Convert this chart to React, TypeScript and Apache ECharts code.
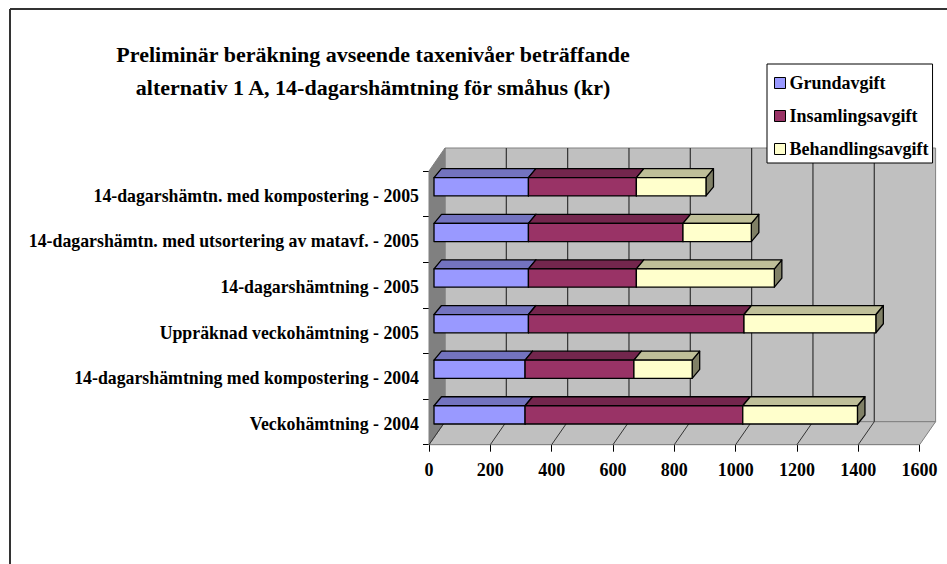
import React, { useEffect, useRef } from "react";
import * as echarts from "echarts";

const titleLines = [
  "Preliminär beräkning avseende taxenivåer beträffande",
  "alternativ 1 A, 14-dagarshämtning för småhus (kr)",
];
const categories = [
  "14-dagarshämtn. med kompostering - 2005",
  "14-dagarshämtn. med utsortering av matavf. - 2005",
  "14-dagarshämtning - 2005",
  "Uppräknad veckohämtning - 2005",
  "14-dagarshämtning med kompostering - 2004",
  "Veckohämtning - 2004",
];
const grundavgift = [308, 308, 308, 308, 297, 297];
const insamlingsavgift = [352, 504, 352, 703, 355, 710];
const behandlingsavgift = [227, 223, 450, 430, 190, 374];
const valueTicks = [0, 200, 400, 600, 800, 1000, 1200, 1400, 1600];

const FONT = "'Liberation Serif', 'Times New Roman', serif";
const DEPTH_X = 16;
const DEPTH_Y = -23;
const BAR_DX = 5;
const BAR_DY = -7;
const TOP_DX = 7.5;
const TOP_DY = -9;
const BAR_RATIO = 0.4;

const seriesDefs = [
  { name: "Grundavgift", values: grundavgift, front: "#9999FF", top: "#7373BF", side: "#4D4D80" },
  { name: "Insamlingsavgift", values: insamlingsavgift, front: "#993366", top: "#73264D", side: "#4D1A33" },
  { name: "Behandlingsavgift", values: behandlingsavgift, front: "#FFFFCC", top: "#BFBF99", side: "#808066" },
];

function stacked(idx: number) {
  return categories.map((_, c) => {
    let start = 0;
    for (let s = 0; s < idx; s++) start += seriesDefs[s].values[c];
    return [start, start + seriesDefs[idx].values[c], c];
  });
}

function renderWalls(params: any, api: any) {
  const cs = params.coordSys;
  const l = cs.x, r = cs.x + cs.width, t = cs.y, b = cs.y + cs.height;
  const dx = DEPTH_X, dy = DEPTH_Y;
  const wallStroke = { stroke: "#808080", lineWidth: 1 };
  const children: any[] = [
    { type: "polygon", shape: { points: [[l + dx, t + dy], [r + dx, t + dy], [r + dx, b + dy], [l + dx, b + dy]] }, style: { fill: "#C0C0C0", ...wallStroke } },
    { type: "polygon", shape: { points: [[l, b], [r, b], [r + dx, b + dy], [l + dx, b + dy]] }, style: { fill: "#C0C0C0", ...wallStroke } },
    { type: "polygon", shape: { points: [[l, t], [l + dx, t + dy], [l + dx, b + dy], [l, b]] }, style: { fill: "#808080", ...wallStroke } },
  ];
  valueTicks.forEach((v) => {
    const x = api.coord([v, 0])[0];
    if (v > 0 && v < 1600) {
      children.push({ type: "line", shape: { x1: x + dx, y1: t + dy, x2: x + dx, y2: b + dy }, style: { stroke: "#333", lineWidth: 1.2 } });
    }
    if (v < 1600) {
      children.push({ type: "line", shape: { x1: x, y1: b, x2: x + dx, y2: b + dy }, style: { stroke: "#333", lineWidth: 1 } });
    }
  });
  return { type: "group", children };
}

function makeBarRenderer(def: any) {
  return (_params: any, api: any) => {
    const c = api.value(2);
    const p0 = api.coord([api.value(0), c]);
    const p1 = api.coord([api.value(1), c]);
    const h = api.size([0, 1])[1] * BAR_RATIO;
    const x0 = p0[0] + BAR_DX, x1 = p1[0] + BAR_DX;
    const y0 = p0[1] + BAR_DY - h / 2, y1 = y0 + h;
    const border = { stroke: "#000", lineWidth: 1.3, lineJoin: "round" };
    return {
      type: "group",
      children: [
        { type: "polygon", shape: { points: [[x1, y0], [x1 + TOP_DX, y0 + TOP_DY], [x1 + TOP_DX, y1 + TOP_DY], [x1, y1]] }, style: { fill: def.side, ...border } },
        { type: "polygon", shape: { points: [[x0, y0], [x0 + TOP_DX, y0 + TOP_DY], [x1 + TOP_DX, y0 + TOP_DY], [x1, y0]] }, style: { fill: def.top, ...border } },
        { type: "rect", shape: { x: x0, y: y0, width: x1 - x0, height: h }, style: { fill: def.front, ...border } },
      ],
    };
  };
}

export default function App() {
  const ref = useRef<HTMLDivElement>(null);
  useEffect(() => {
    document.body.style.margin = "0";
    const chart = echarts.init(ref.current!, null, { renderer: "svg" });
    chart.setOption({
      animation: false,
      backgroundColor: "#fff",
      title: {
        text: titleLines.join("\n"),
        left: 368,
        top: 33,
        textAlign: "center",
        textStyle: { fontFamily: FONT, fontWeight: "bold", fontSize: 22, lineHeight: 33, color: "#000" },
      },
      legend: {
        data: seriesDefs.map((d) => ({ name: d.name, itemStyle: { color: d.front, borderColor: "#000", borderWidth: 1 } })),
        orient: "vertical",
        left: 767,
        top: 64,
        padding: [10, 4, 5, 7],
        itemWidth: 11,
        itemHeight: 11,
        itemGap: 15,
        icon: "rect",
        backgroundColor: "#fff",
        borderColor: "#000",
        borderWidth: 1,
        selectedMode: false,
        textStyle: { fontFamily: FONT, fontWeight: "bold", fontSize: 18, color: "#000", padding: [0, 0, 0, -1] },
        z: 20,
      },
      grid: { left: 429, top: 171, width: 490.6, height: 273.7 },
      xAxis: {
        type: "value",
        min: 0,
        max: 1600,
        interval: 200,
        position: "bottom",
        axisLine: { show: true, onZero: false, lineStyle: { color: "#000", width: 1 } },
        axisTick: { show: true, length: 7, lineStyle: { color: "#000", width: 1 } },
        axisLabel: { fontFamily: FONT, fontWeight: "bold", fontSize: 18, color: "#000", margin: 16, formatter: (v: number) => String(v) },
        splitLine: { show: false },
      },
      yAxis: {
        type: "category",
        data: categories,
        inverse: true,
        axisLine: { show: true, onZero: false, lineStyle: { color: "#000", width: 1 } },
        axisTick: { show: true, length: 6, alignWithLabel: false, lineStyle: { color: "#000", width: 1 } },
        axisLabel: { fontFamily: FONT, fontWeight: "bold", fontSize: 17.8, color: "#000", margin: 10, verticalAlign: "top", lineHeight: 4, interval: 0 },
        splitLine: { show: false },
      },
      graphic: [
        { type: "line", shape: { x1: 10, y1: 9, x2: 947, y2: 9 }, style: { stroke: "#333", lineWidth: 2 } },
        { type: "line", shape: { x1: 10, y1: 9, x2: 10, y2: 564 }, style: { stroke: "#333", lineWidth: 2 } },
      ],
      series: [
        {
          type: "custom",
          name: "walls",
          silent: true,
          renderItem: renderWalls,
          data: [[0, 0]],
          encode: { x: 0, y: 1 },
          z: 1,
        },
        ...seriesDefs.map((d, i) => ({
          type: "custom",
          name: d.name,
          renderItem: makeBarRenderer(d),
          data: stacked(i),
          encode: { x: [0, 1], y: 2 },
          itemStyle: { color: d.front },
          z: 2 + i,
        })),
      ],
    });
    return () => chart.dispose();
  }, []);
  return <div ref={ref} style={{ width: 947, height: 564, position: "absolute", left: 0, top: 0 }} />;
}
